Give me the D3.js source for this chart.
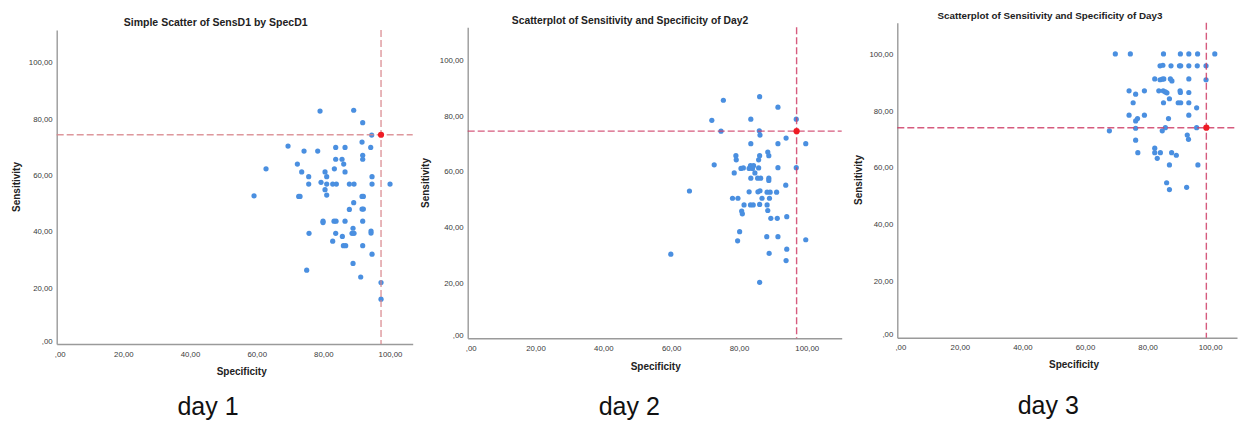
<!DOCTYPE html>
<html>
<head>
<meta charset="utf-8">
<script src="https://cdn.jsdelivr.net/npm/d3@7"></script>
<style>
  body { margin: 0; background: #fff; }
  svg { display: block; font-family: "Liberation Sans", Arial, sans-serif; }
</style>
</head>
<body>
<svg id="chart" width="1239" height="422"></svg>
<script>
// ---- data ----
var xTicks = [0, 20, 40, 60, 80, 100];
var yTicks = [0, 20, 40, 60, 80, 100];
var titles = ["Simple Scatter of SensD1 by SpecD1",
              "Scatterplot of Sensitivity and Specificity of Day2",
              "Scatterplot of Sensitivity and Specificity of Day3"];
var dayLabels = ["day 1", "day 2", "day 3"];

var d1Spec = [79.0, 89.1, 91.8, 94.5, 91.6, 94.2, 69.4, 83.7, 86.5, 74.2, 78.3, 91.8, 91.8, 83.7, 85.6, 86.1, 72.2, 62.8, 83.3, 73.5,
              80.5, 86.5, 75.6, 81.0, 94.6, 79.3, 75.6, 81.0, 82.8, 83.9, 87.8, 89.2, 94.6, 100.0, 80.5, 59.2, 72.6, 73.0, 81.0, 91.6,
              92.0, 89.1, 87.8, 91.6, 92.0, 79.9, 79.9, 83.2, 83.8, 86.5, 91.8, 88.9, 75.7, 83.7, 85.7, 88.6, 89.2, 94.3, 94.3, 82.8,
              86.0, 86.7, 91.8, 94.6, 88.9, 75.0, 91.2, 97.3, 97.3];
var d1Sens = [82.7, 83.0, 78.6, 74.2, 71.7, 69.8, 70.3, 69.8, 69.8, 68.5, 68.5, 67.0, 65.6, 65.6, 65.6, 63.9, 63.9, 62.2, 62.2, 61.1,
              61.1, 61.1, 59.4, 59.4, 59.4, 57.4, 56.8, 56.8, 56.8, 56.8, 56.8, 56.8, 56.8, 56.8, 54.8, 52.6, 52.4, 52.4, 52.9, 52.4,
              52.4, 50.2, 47.8, 47.9, 47.9, 43.6, 43.1, 43.6, 43.6, 43.6, 43.6, 41.1, 39.3, 39.3, 38.2, 39.3, 39.3, 40.1, 39.4, 36.5,
              34.9, 34.9, 34.9, 31.9, 28.6, 26.2, 23.8, 21.8, 15.9];

var d2Spec = [75.4, 86.1, 91.5, 72.0, 83.5, 96.9, 74.7, 86.0, 86.2, 93.9, 83.5, 91.5, 99.7, 79.1, 79.2, 86.1, 85.8, 88.5, 88.8, 72.7,
              80.6, 81.3, 83.0, 83.4, 84.0, 84.3, 85.8, 91.5, 96.9, 78.6, 84.7, 83.5, 85.5, 86.4, 88.8, 88.8, 65.4, 83.0, 85.6, 86.2,
              88.3, 89.2, 91.1, 93.8, 78.1, 79.7, 86.8, 89.0, 81.5, 83.4, 84.2, 86.1, 88.3, 88.5, 80.8, 81.0, 89.4, 91.3, 94.1, 80.2,
              79.6, 88.2, 91.5, 99.7, 59.9, 88.9, 94.1, 93.9, 86.1];
var d2Sens = [85.5, 86.8, 83.0, 78.3, 78.7, 78.7, 74.4, 74.5, 73.0, 71.9, 69.9, 69.9, 69.9, 65.6, 64.1, 65.6, 64.1, 66.9, 65.6, 62.3,
              61.0, 61.2, 61.0, 62.0, 61.0, 62.0, 61.2, 61.3, 61.3, 59.4, 59.4, 57.5, 57.5, 57.5, 57.5, 56.7, 52.9, 52.6, 52.6, 53.0,
              52.5, 52.5, 52.5, 55.0, 50.3, 50.3, 50.3, 50.3, 47.9, 47.9, 47.9, 48.1, 47.9, 45.9, 45.7, 44.7, 43.1, 43.1, 43.7, 38.3,
              35.0, 36.5, 36.5, 35.4, 30.2, 30.5, 32.0, 27.9, 20.1];

var d3Spec = [69.7, 74.5, 85.1, 90.5, 93.2, 96.0, 101.5, 84.0, 84.9, 87.5, 90.2, 90.6, 93.2, 95.9, 98.7,
              82.3, 84.0, 84.7, 85.2, 87.3, 87.8, 93.2, 98.7, 74.1, 76.2, 79.0, 83.6, 85.0, 85.7, 86.2, 90.4, 90.5, 93.2,
              75.4, 85.1, 87.0, 89.8, 90.6, 93.2, 95.7, 74.1, 79.0, 93.2, 76.8, 76.2, 86.7,
              67.8, 76.2, 84.7, 85.7, 95.7, 92.7, 93.1, 76.2, 76.9, 82.3, 82.3, 84.1, 83.1, 87.7, 89.2,
              87.0, 96.1, 86.1, 87.0, 92.5];
var d3Sens = [100, 100, 100, 100, 100, 100, 100, 95.8, 96.0, 95.8, 95.8, 95.8, 95.8, 95.8, 95.8,
              91.2, 90.9, 91.1, 91.2, 91.2, 90.5, 91.2, 90.9, 87.0, 85.8, 87.0, 87.0, 87.0, 86.6, 86.3, 87.0, 86.4, 86.4,
              82.8, 82.8, 84.2, 82.8, 82.8, 82.8, 81.0, 78.4, 78.4, 78.4, 77.2, 76.4, 77.2,
              72.9, 73.8, 72.9, 74.0, 74.0, 71.4, 69.9, 69.6, 65.2, 66.8, 65.2, 65.2, 63.2, 65.2, 64.3,
              60.9, 60.9, 54.6, 52.2, 53.0];

// reference point (cut-off) per day: specificity, sensitivity
var refSpec = [97.3, 97.0, 98.8];
var refSens = [74.3, 74.4, 74.0];

var specs = [d1Spec, d2Spec, d3Spec];
var senss = [d1Sens, d2Sens, d3Sens];

// ---- layout of the three screenshots ----
var panels = [
  { left: 56.7, right: 412.7, top: 30, bottom: 344, xMax: 106.8, yMax: 111.5,
    title: [215.7, 26], titleSize: 10.5, xLab: [241.7, 374.5], yLab: [16.7, 187],
    day: [208, 414.5], lineColor: "#d9858b" },
  { left: 467.7, right: 841.7, top: 27.3, bottom: 338.3, xMax: 110.3, yMax: 111.7,
    title: [630, 23.5], titleSize: 10.3, xLab: [655.7, 370], yLab: [425.7, 183],
    day: [629.3, 414.5], lineColor: "#cf3f68" },
  { left: 897.3, right: 1237, top: 22.7, bottom: 337.7, xMax: 108.6, yMax: 111,
    title: [1050, 19.2], titleSize: 9.8, xLab: [1074, 368], yLab: [858.3, 180],
    day: [1048.3, 414], lineColor: "#cf3f68" }
];

var pointColor = "#4a8fe0";
var refColor = "#ee1c25";
var fmt = function(d) { return d3.format(".2f")(d).replace(".", ",").replace(/^0,/, ","); };

var svg = d3.select("#chart");

panels.forEach(function(p, i) {
  var x = d3.scaleLinear().domain([0, p.xMax]).range([p.left, p.right]);
  var y = d3.scaleLinear().domain([0, p.yMax]).range([p.bottom, p.top]);
  var g = svg.append("g");

  // axes
  var xa = g.append("g")
    .attr("transform", "translate(0," + p.bottom + ")")
    .call(d3.axisBottom(x).tickValues(xTicks).tickFormat(fmt).tickSize(0).tickPadding(7));
  var ya = g.append("g")
    .attr("transform", "translate(" + p.left + ",0)")
    .call(d3.axisLeft(y).tickValues(yTicks).tickFormat(fmt).tickSize(0).tickPadding(4));
  [xa, ya].forEach(function(a) {
    a.select(".domain").attr("stroke", "#9a9a9a").attr("stroke-width", 1.4);
    a.selectAll("text").attr("font-size", "7.8px").attr("fill", "#3a3a3a")
      .attr("font-family", "Liberation Sans, Arial, sans-serif");
  });
  // SPSS puts the y zero label a bit up and the x zero label a bit right
  ya.selectAll(".tick text").filter(function(d) { return d === 0; }).attr("dy", "-0.1em");
  xa.selectAll(".tick text").filter(function(d) { return d === 0; }).attr("dx", "3px");

  // points
  g.selectAll("circle.pt")
    .data(d3.range(specs[i].length))
    .enter().append("circle")
    .attr("class", "pt")
    .attr("cx", function(k) { return x(specs[i][k]); })
    .attr("cy", function(k) { return y(senss[i][k]); })
    .attr("r", 2.6)
    .attr("fill", pointColor);

  // cut-off reference lines
  g.append("line")
    .attr("x1", p.left).attr("x2", p.right)
    .attr("y1", y(refSens[i])).attr("y2", y(refSens[i]))
    .attr("stroke", p.lineColor).attr("stroke-width", 1.4)
    .attr("stroke-dasharray", "7,3").attr("opacity", 0.85);
  g.append("line")
    .attr("x1", x(refSpec[i])).attr("x2", x(refSpec[i]))
    .attr("y1", p.top).attr("y2", p.bottom)
    .attr("stroke", p.lineColor).attr("stroke-width", 1.4)
    .attr("stroke-dasharray", "7,3").attr("opacity", 0.85);

  g.append("circle")
    .attr("cx", x(refSpec[i]))
    .attr("cy", y(refSens[i]))
    .attr("r", 3.1)
    .attr("fill", refColor);

  // texts
  g.append("text")
    .attr("x", p.title[0]).attr("y", p.title[1])
    .attr("text-anchor", "middle")
    .attr("font-size", p.titleSize + "px").attr("font-weight", "bold").attr("fill", "#222")
    .text(titles[i]);
  g.append("text")
    .attr("x", p.xLab[0]).attr("y", p.xLab[1])
    .attr("text-anchor", "middle")
    .attr("font-size", "10px").attr("font-weight", "bold").attr("fill", "#222")
    .text("Specificity");
  g.append("text")
    .attr("transform", "translate(" + p.yLab[0] + "," + p.yLab[1] + ") rotate(-90)")
    .attr("text-anchor", "middle").attr("dy", "0.35em")
    .attr("font-size", "10px").attr("font-weight", "bold").attr("fill", "#222")
    .text("Sensitivity");
  g.append("text")
    .attr("x", p.day[0]).attr("y", p.day[1])
    .attr("text-anchor", "middle")
    .attr("font-size", "25px").attr("fill", "#111")
    .text(dayLabels[i]);
});
</script>
</body>
</html>
